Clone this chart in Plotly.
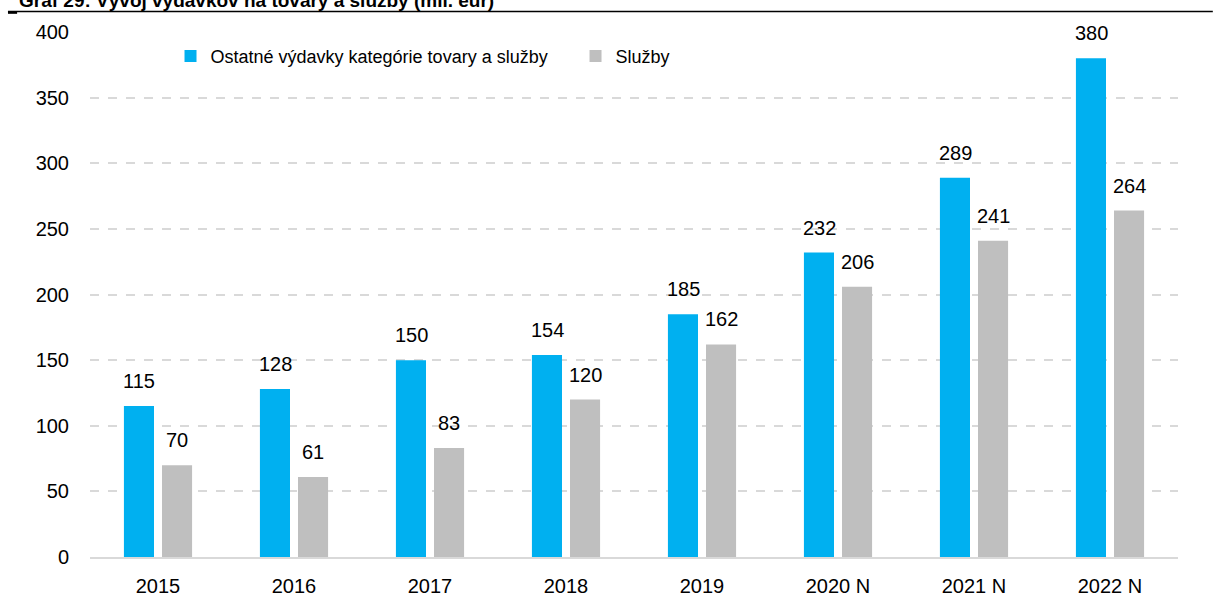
import plotly.graph_objects as go

categories = ["2015", "2016", "2017", "2018", "2019", "2020 N", "2021 N", "2022 N"]
ostatne = [115, 128, 150, 154, 185, 232, 289, 380]
sluzby = [70, 61, 83, 120, 162, 206, 241, 264]
series_names = ["Ostatné výdavky kategórie tovary a služby", "Služby"]
y_ticks = [0, 50, 100, 150, 200, 250, 300, 350, 400]
title_text = "Graf 29: Vývoj výdavkov na tovary a služby (mil. eur)"

BLUE = "#00B0F0"
GRAY = "#BFBFBF"
FONT = "Liberation Sans, Arial, sans-serif"

fig = go.Figure()
fig.add_trace(go.Bar(x=categories, y=ostatne, name=series_names[0], marker_color=BLUE,
                     marker_line_width=0))
fig.add_trace(go.Bar(x=categories, y=sluzby, name=series_names[1], marker_color=GRAY,
                     marker_line_width=0))

# value labels: category index on the categorical axis, value on the y axis
for vals, xs in ((ostatne, -19), (sluzby, 19)):
    for i, v in enumerate(vals):
        fig.add_annotation(x=i, y=v, text=str(v), showarrow=False, xref="x", yref="y",
                           xanchor="center", yanchor="bottom", xshift=xs, yshift=12,
                           font=dict(family=FONT, size=20, color="#000000"))

fig.add_annotation(text="<b>" + title_text + "</b>", xref="paper", yref="paper",
                   x=-0.0675, y=1.0, xanchor="left", yanchor="bottom", yshift=19,
                   showarrow=False, font=dict(family=FONT, size=19, color="#000000"))

fig.add_shape(type="line", xref="paper", yref="paper", x0=-0.0754, x1=1.032,
              y0=1.039, y1=1.039, line=dict(color="#000000", width=1.5))
fig.add_shape(type="line", xref="paper", yref="paper", x0=-0.0754, x1=-0.067,
              y0=1.037, y1=1.037, line=dict(color="#000000", width=2.5))

fig.update_layout(
    width=1215, height=601,
    margin=dict(l=90, r=37, t=32, b=44, autoexpand=False),
    plot_bgcolor="white", paper_bgcolor="white",
    barmode="group", bargap=0.44, bargroupgap=0.21,
    font=dict(family=FONT, size=20, color="#000000"),
    legend=dict(orientation="h", x=0.074, y=0.989, xanchor="left", yanchor="top",
                entrywidth=360, entrywidthmode="pixels",
                font=dict(family=FONT, size=18, color="#000000"),
                bgcolor="rgba(0,0,0,0)"),
    showlegend=True,
)
fig.update_xaxes(type="category", range=[-0.5, len(categories) - 0.5], showgrid=False,
                 showline=True, linecolor="#D9D9D9", linewidth=2, ticks="",
                 ticklabelstandoff=10, automargin=False,
                 tickfont=dict(family=FONT, size=20))
fig.update_yaxes(range=[0, 400], tickvals=y_ticks, showgrid=True, gridcolor="#D9D9D9",
                 griddash="dash", gridwidth=1.5, zeroline=False, showline=False,
                 ticks="", ticklabelstandoff=20, automargin=False,
                 tickfont=dict(family=FONT, size=20))

fig.write_html("out.html", config={"displayModeBar": False},
               post_script="document.body.style.margin='0';document.body.style.padding='0';")
